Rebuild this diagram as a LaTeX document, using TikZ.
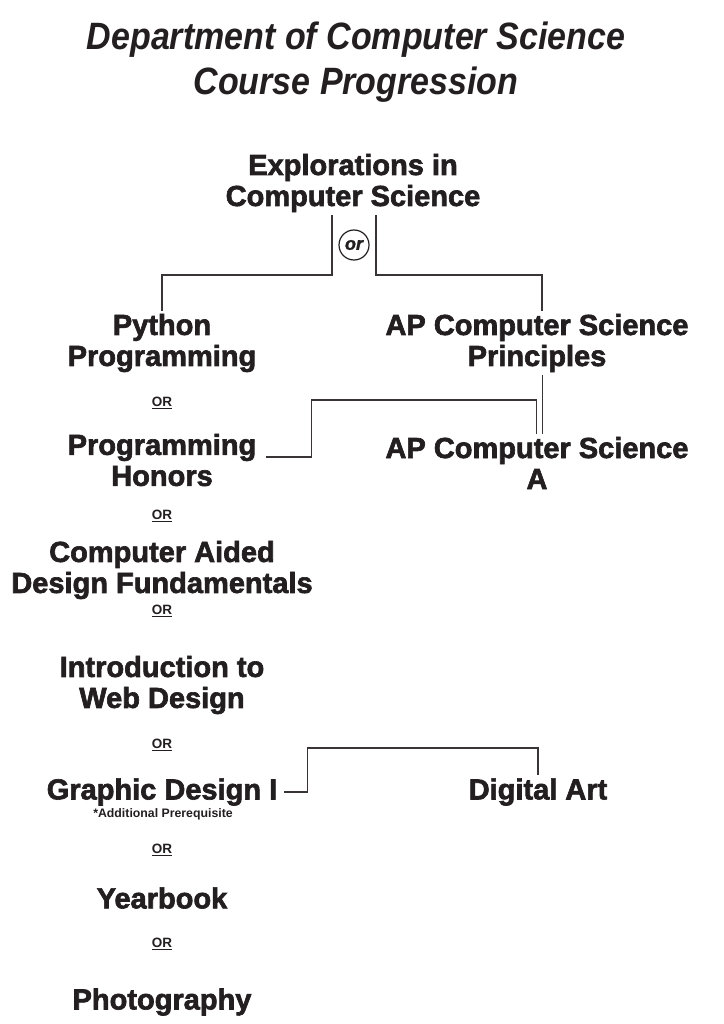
\documentclass[tikz,border=0pt]{standalone}
\usepackage{fontspec}
\usepackage{graphicx}
\setmainfont{Liberation Sans}
\newfontfamily\heavy{Liberation Sans Bold}[FakeBold=2.2]
\newfontfamily\titlefont{Liberation Sans Bold Italic}
\newfontfamily\orfont{Liberation Sans Bold Italic}[FakeBold=1.5]
\usetikzlibrary{calc}
\definecolor{ink}{HTML}{231F20}
\tikzset{
  course/.style={align=center,text=ink,inner sep=3pt,font=\heavy\fontsize{29}{31}\selectfont},
  orlabel/.style={text=ink,inner sep=1pt,font=\bfseries\fontsize{13.5}{15}\selectfont},
  note/.style={text=ink,inner sep=1pt,font=\bfseries\fontsize{12.3}{14}\selectfont},
  link/.style={draw=ink!90,line width=1.8pt},
  orcircle/.style={circle,draw=ink,line width=1.2pt,inner sep=1pt,minimum size=30pt,text=ink,font=\orfont\fontsize{18}{20}\selectfont}
}
\begin{document}
\begin{tikzpicture}[x=1pt,y=-1pt]
\useasboundingbox (0,0) rectangle (723,1024);
\fill[white] (0,0) rectangle (723,1024);
\node[align=center,text=ink,font=\titlefont\fontsize{34}{45}\selectfont] (title) at (356,62)
  {\scalebox{1}[1.12]{Department of Computer Science}\\\scalebox{1}[1.12]{Course Progression}};

\node[course] (expl) at (353,183) {Explorations in\\Computer Science};
\node[orcircle] (or1) at (354,245) {or};
\node[course] (python) at (162,343) {Python\\Programming};
\node[course] (apcsp) at (537,343) {AP Computer Science\\Principles};
\node[orlabel] (o1) at (162,403) {\underline{OR}};
\node[course] (honors) at (162,460) {Programming\\Honors};
\node[course] (apcsa) at (537,463) {AP Computer Science\\A};
\node[orlabel] (o2) at (162,516) {\underline{OR}};
\node[course] (cad) at (162,570) {Computer Aided\\Design Fundamentals};
\node[orlabel] (o3) at (162,611) {\underline{OR}};
\node[course] (web) at (162,685) {Introduction to\\Web Design};
\node[orlabel] (o4) at (162,745) {\underline{OR}};
\node[course] (graphic) at (162,792) {Graphic Design I};
\node[note] (prereq) at (163,814) {*Additional Prerequisite};
\node[course] (digital) at (538,792) {Digital Art};
\node[orlabel] (o5) at (162,850) {\underline{OR}};
\node[course] (yearbook) at (162,898) {Yearbook};
\node[orlabel] (o6) at (162,944) {\underline{OR}};
\node[course] (photo) at (162,1002) {Photography};

\draw[link] ($(expl.south)+(-21,0)$) -- ++(0,60) -| (python.north);
\draw[link] ($(expl.south)+(23,0)$) -- ++(0,60) -| ($(apcsp.north)+(5,0)$);
\draw[link] ($(apcsp.south)+(5.5,0)$) -- ($(apcsa.north)+(5.5,0)$);
\draw[link] ($(honors.east)+(7,-3)$) -- ++(45,0) -- ++(0,-57) -| ($(apcsa.north)+(-0.5,0)$);
\draw[link] ($(graphic.east)+(4,0)$) -- ++(23,0) -- ++(0,-44) -| (digital.north);
\end{tikzpicture}
\end{document}
